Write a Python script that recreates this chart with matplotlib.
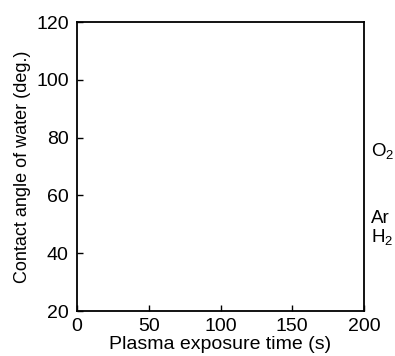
import matplotlib
matplotlib.use("Agg")
import matplotlib.pyplot as plt
import matplotlib.transforms as mtransforms

# gas labels at the right edge and their heights (deg.)
gases = ["O$_2$", "Ar", "H$_2$"]
label_heights = [75.5, 52.0, 45.5]

x_ticks = [0, 50, 100, 150, 200]
y_ticks = [20, 40, 60, 80, 100, 120]

plt.rcParams["font.family"] = ["Liberation Sans", "DejaVu Sans"]
plt.rcParams["mathtext.fontset"] = "custom"
plt.rcParams["mathtext.rm"] = "Liberation Sans"
plt.rcParams["mathtext.it"] = "Liberation Sans"

fig = plt.figure(figsize=(3.95, 3.56), dpi=100)
ax = fig.add_axes([0.195, 0.1264, 0.7265, 0.8116])

ax.set_xlim(0, 200)
ax.set_ylim(20, 120)
ax.set_xticks(x_ticks)
ax.set_yticks(y_ticks)
ax.tick_params(direction="in", length=4, width=1, labelsize=14,
               top=False, right=False)
ax.tick_params(axis="y", pad=6)
ax.tick_params(axis="x", pad=5)
for s in ax.spines.values():
    s.set_linewidth(1.3)

ax.set_xlabel("Plasma exposure time (s)", fontsize=14, labelpad=1)
ax.set_ylabel("Contact angle of water (deg.)", fontsize=13, labelpad=4)

trans = mtransforms.blended_transform_factory(ax.transAxes, ax.transData)
for name, h in zip(gases, label_heights):
    ax.text(1.025, h, name, transform=trans, fontsize=13.5,
            ha="left", va="center")

fig.savefig("out.png", dpi=100)
